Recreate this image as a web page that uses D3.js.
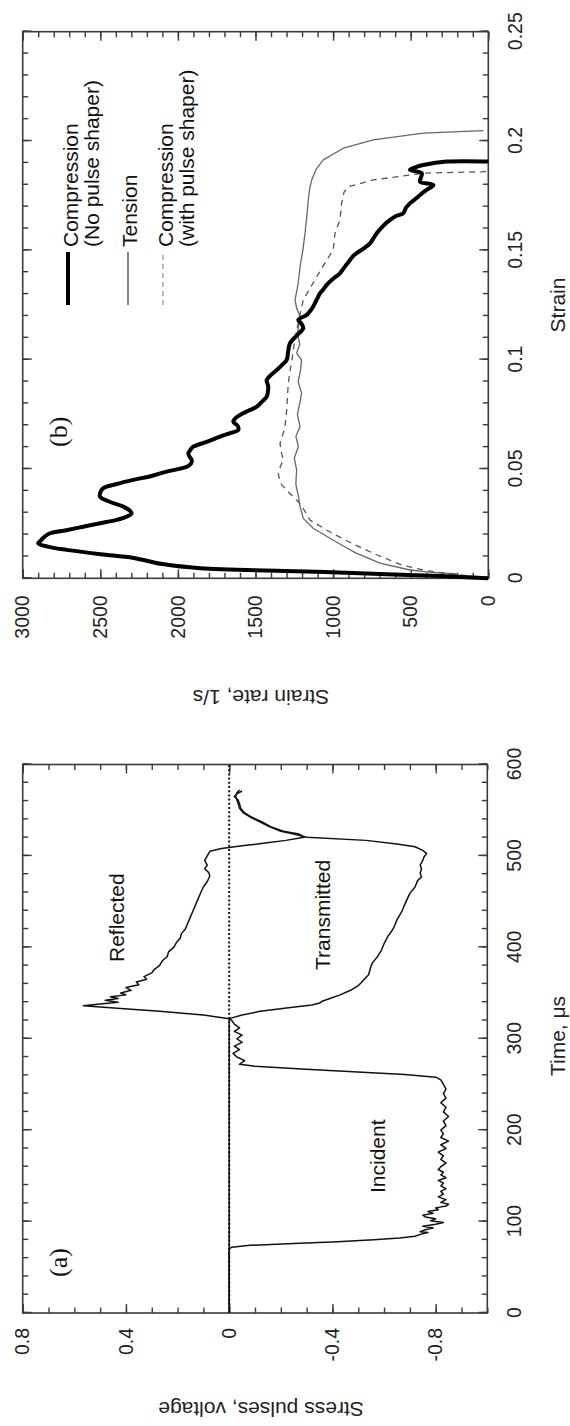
<!DOCTYPE html>
<html>
<head>
<meta charset="utf-8">
<script src="https://cdn.jsdelivr.net/npm/d3@7"></script>
<style>
  body { margin: 0; background: #fff; }
  svg text { font-family: "Liberation Sans", Arial, Helvetica, sans-serif; }
</style>
</head>
<body>
<svg id="fig" width="570" height="1426"></svg>
<script>
// ---------- Panel (a): stress pulses vs time ----------
const timeTicks = [0, 100, 200, 300, 400, 500, 600];
const pulseTicks = [0.8, 0.4, 0, -0.4, -0.8];

// incident-bar gauge: incident pulse followed by reflected pulse
const incidentBarTime = [0, 70, 72, 74, 76, 78, 80, 82, 84, 86, 88, 89, 91, 93, 95, 97, 99, 101, 103, 105, 107, 109, 111, 113, 115, 117, 119, 121, 124, 127, 130, 133, 136, 139, 142, 145, 148, 151, 154, 157, 160, 164, 168, 172, 176, 180, 184, 188, 192, 196, 200, 205, 210, 215, 220, 225, 230, 235, 240, 245, 250, 255, 258, 261, 264, 267, 270, 272, 276, 280, 284, 288, 292, 296, 300, 304, 308, 312, 316, 320, 322, 326, 330, 333, 336, 338, 340, 342, 344, 346, 348, 350, 353, 356, 359, 362, 365, 368, 372, 376, 380, 385, 390, 395, 400, 405, 410, 415, 420, 430, 440, 450, 460, 466, 472, 478, 482, 486, 490, 495, 500, 505, 508, 511, 514, 517, 520.5, 524, 527, 532, 537, 542, 547, 552, 557, 561, 565, 568, 571];
const incidentBarSignal = [0, 0, -0.01, -0.08, -0.25, -0.42, -0.56, -0.66, -0.72, -0.74, -0.77, -0.74, -0.76, -0.79, -0.75, -0.8, -0.83, -0.78, -0.8, -0.76, -0.75, -0.79, -0.77, -0.81, -0.8, -0.84, -0.85, -0.82, -0.84, -0.81, -0.83, -0.82, -0.84, -0.82, -0.83, -0.81, -0.84, -0.82, -0.83, -0.81, -0.82, -0.84, -0.82, -0.83, -0.81, -0.84, -0.82, -0.85, -0.82, -0.83, -0.82, -0.84, -0.83, -0.85, -0.83, -0.84, -0.82, -0.84, -0.83, -0.84, -0.83, -0.82, -0.8, -0.68, -0.48, -0.28, -0.1, -0.04, -0.06, -0.03, -0.015, -0.04, -0.02, -0.05, -0.03, -0.05, -0.02, -0.04, -0.02, -0.01, 0, 0.1, 0.27, 0.42, 0.565, 0.5, 0.43, 0.48, 0.43, 0.46, 0.4, 0.42, 0.38, 0.4, 0.35, 0.36, 0.32, 0.33, 0.3, 0.29, 0.27, 0.26, 0.24, 0.235, 0.215, 0.205, 0.19, 0.185, 0.17, 0.155, 0.14, 0.125, 0.11, 0.1, 0.085, 0.075, 0.08, 0.095, 0.085, 0.095, 0.085, 0.075, 0.03, -0.05, -0.14, -0.22, -0.29, -0.27, -0.21, -0.16, -0.13, -0.09, -0.06, -0.045, -0.04, -0.035, -0.02, -0.03, -0.05];

// transmitted-bar gauge
const transmittedTime = [0, 322, 326, 330, 334, 337, 339, 341, 344, 348, 353, 358, 364, 370, 375, 380, 383, 390, 397, 404, 412, 420, 430, 440, 450, 459, 466, 473, 477, 481, 486, 490, 495, 499, 502.5, 506, 510, 513, 517, 520.5, 524, 527, 532, 537, 542, 547, 552, 557, 561, 565, 569, 572];
const transmittedSignal = [0, 0, -0.05, -0.12, -0.23, -0.32, -0.35, -0.36, -0.39, -0.43, -0.47, -0.5, -0.52, -0.54, -0.545, -0.55, -0.555, -0.575, -0.59, -0.6, -0.615, -0.635, -0.65, -0.67, -0.685, -0.7, -0.72, -0.73, -0.745, -0.74, -0.745, -0.74, -0.75, -0.755, -0.765, -0.75, -0.72, -0.65, -0.53, -0.3, -0.25, -0.2, -0.155, -0.12, -0.085, -0.055, -0.04, -0.035, -0.03, -0.025, -0.03, -0.04];

// ---------- Panel (b): strain rate vs strain ----------
const strainTicks = [0, 0.05, 0.1, 0.15, 0.2, 0.25];
const rateTicks = [0, 500, 1000, 1500, 2000, 2500, 3000];

const noShaperStrain = [0, 0.001, 0.002, 0.003, 0.0046, 0.0065, 0.0093, 0.011, 0.013, 0.0145, 0.016, 0.0175, 0.019, 0.0206, 0.022, 0.0236, 0.0252, 0.0267, 0.0282, 0.0297, 0.031, 0.0328, 0.035, 0.0373, 0.0392, 0.0412, 0.043, 0.045, 0.0468, 0.0488, 0.051, 0.0525, 0.0541, 0.0557, 0.0572, 0.0587, 0.0602, 0.0625, 0.0648, 0.0665, 0.0678, 0.0697, 0.0716, 0.0732, 0.0747, 0.0765, 0.0785, 0.081, 0.083, 0.0853, 0.0876, 0.0895, 0.0907, 0.093, 0.0953, 0.0975, 0.0999, 0.1035, 0.1075, 0.111, 0.1144, 0.1165, 0.1182, 0.1205, 0.1225, 0.1243, 0.1275, 0.1304, 0.132, 0.1342, 0.137, 0.1395, 0.142, 0.1456, 0.1475, 0.1487, 0.151, 0.1532, 0.1555, 0.1578, 0.161, 0.1639, 0.1655, 0.167, 0.1695, 0.1715, 0.1735, 0.1753, 0.1775, 0.1799, 0.1814, 0.1835, 0.1853, 0.1868, 0.188, 0.189, 0.1906, 0.1906];
const noShaperRate = [0, 300, 700, 1100, 1857, 2100, 2285, 2500, 2717, 2840, 2900, 2880, 2860, 2824, 2720, 2610, 2500, 2394, 2330, 2298, 2310, 2352, 2440, 2502, 2500, 2481, 2400, 2288, 2170, 2072, 1943, 1915, 1911, 1925, 1933, 1920, 1901, 1810, 1729, 1660, 1611, 1615, 1643, 1630, 1600, 1550, 1492, 1455, 1428, 1420, 1418, 1425, 1428, 1400, 1363, 1330, 1299, 1290, 1278, 1235, 1192, 1205, 1224, 1170, 1145, 1128, 1105, 1084, 1065, 1041, 1000, 956, 930, 891, 870, 848, 800, 762, 740, 719, 680, 633, 600, 548, 530, 505, 470, 440, 400, 354, 440, 433, 429, 505, 470, 419, 268, 0];

const tensionStrain = [0, 0.001, 0.0015, 0.002, 0.0028, 0.0038, 0.0069, 0.0114, 0.015, 0.0183, 0.0229, 0.0274, 0.0328, 0.038, 0.043, 0.0495, 0.055, 0.0602, 0.065, 0.0693, 0.075, 0.08, 0.0846, 0.09, 0.095, 0.0999, 0.103, 0.107, 0.112, 0.1197, 0.1235, 0.1273, 0.135, 0.1425, 0.15, 0.1578, 0.165, 0.173, 0.1785, 0.1822, 0.187, 0.1914, 0.1967, 0.2005, 0.2036, 0.2048];
const tensionRate = [0, 120, 260, 200, 380, 505, 698, 848, 940, 1020, 1128, 1192, 1213, 1225, 1240, 1235, 1250, 1224, 1240, 1213, 1230, 1215, 1203, 1225, 1210, 1203, 1235, 1215, 1230, 1213, 1235, 1245, 1225, 1213, 1195, 1181, 1170, 1160, 1150, 1138, 1110, 1063, 934, 741, 419, 32];

const shaperStrain = [0, 0.001, 0.002, 0.0035, 0.0061, 0.0114, 0.0167, 0.022, 0.0267, 0.0305, 0.0343, 0.0375, 0.0404, 0.0427, 0.045, 0.048, 0.051, 0.0541, 0.058, 0.0618, 0.0655, 0.0693, 0.073, 0.077, 0.082, 0.088, 0.094, 0.1, 0.105, 0.11, 0.115, 0.12, 0.1273, 0.1365, 0.1456, 0.1502, 0.1578, 0.1639, 0.1715, 0.1765, 0.1791, 0.1822, 0.1853, 0.186];
const shaperRate = [0, 100, 250, 400, 560, 740, 900, 1040, 1150, 1180, 1215, 1260, 1300, 1331, 1345, 1353, 1340, 1321, 1335, 1342, 1325, 1310, 1305, 1299, 1295, 1290, 1280, 1265, 1255, 1245, 1230, 1215, 1192, 1117, 1041, 999, 988, 956, 945, 930, 902, 741, 419, 0];

const legendLabels = [
  ["Compression", "(No pulse shaper)"],
  ["Tension"],
  ["Compression", "(with pulse shaper)"]
];

// ---------- drawing ----------
const svg = d3.select("#fig");
svg.append("rect").attr("width", 570).attr("height", 1426).attr("fill", "#fff");

// The figure is laid out landscape (1426 x 570) and turned a quarter turn.
const fig = svg.append("g").attr("transform", "translate(0,1426) rotate(-90)");

const frameColor = "#3a3a3a";
const tickFont = 19.5;
const titleFont = 21;

function drawFrame(g, x, y, xMajor, yMajor, xFmt, yFmt, yPad) {
  const [x0, x1] = x.range();
  const [y0, y1] = y.range();
  const xMinor = x.ticks(xMajor === timeTicks ? 30 : 25);
  const yMinor = y.ticks(yMajor === pulseTicks ? 18 : 30);

  const style = sel => {
    sel.attr("font-size", tickFont)
       .attr("font-family", '"Liberation Sans", Arial, sans-serif')
       .attr("color", frameColor);
    sel.select(".domain").remove();
    sel.selectAll(".tick line").attr("stroke-width", 1.4);
    sel.selectAll(".tick text").attr("fill", "#222");
  };

  // bottom
  g.append("g").attr("transform", `translate(0,${y0})`)
    .call(d3.axisBottom(x).tickValues(xMinor).tickSize(-5.5).tickFormat("")).call(style);
  g.append("g").attr("transform", `translate(0,${y0})`)
    .call(d3.axisBottom(x).tickValues(xMajor).tickSize(-9).tickPadding(20).tickFormat(xFmt)).call(style);
  // top
  g.append("g").attr("transform", `translate(0,${y1})`)
    .call(d3.axisTop(x).tickValues(xMinor).tickSize(-5.5).tickFormat("")).call(style);
  g.append("g").attr("transform", `translate(0,${y1})`)
    .call(d3.axisTop(x).tickValues(xMajor).tickSize(-9).tickFormat("")).call(style);
  // left
  g.append("g").attr("transform", `translate(${x0},0)`)
    .call(d3.axisLeft(y).tickValues(yMinor).tickSize(-5.5).tickFormat("")).call(style);
  g.append("g").attr("transform", `translate(${x0},0)`)
    .call(d3.axisLeft(y).tickValues(yMajor).tickSize(-9).tickPadding(yPad).tickFormat(yFmt)).call(style);
  // right
  g.append("g").attr("transform", `translate(${x1},0)`)
    .call(d3.axisRight(y).tickValues(yMinor).tickSize(-5.5).tickFormat("")).call(style);
  g.append("g").attr("transform", `translate(${x1},0)`)
    .call(d3.axisRight(y).tickValues(yMajor).tickSize(-9).tickFormat("")).call(style);

  g.append("rect")
    .attr("x", x0).attr("y", y1)
    .attr("width", x1 - x0).attr("height", y0 - y1)
    .attr("fill", "none").attr("stroke", frameColor).attr("stroke-width", 1.6);
}

const zip = (a, b) => a.map((v, i) => [v, b[i]]);

// ----- panel (a)
const xa = d3.scaleLinear().domain([0, 600]).range([113, 661.5]);
const ya = d3.scaleLinear().domain([-1.0, 0.8]).range([487.3, 22.7]);
const pa = fig.append("g");

drawFrame(pa, xa, ya, timeTicks, pulseTicks, d3.format("d"), d => d3.format("")(d).replace("−", "-"), 15);

const lineA = d3.line().x(d => xa(d[0])).y(d => ya(d[1]));

pa.append("line")
  .attr("x1", xa(0)).attr("x2", xa(600))
  .attr("y1", ya(0)).attr("y2", ya(0))
  .attr("stroke", "#111").attr("stroke-width", 2)
  .attr("stroke-dasharray", "2,2.2");

pa.append("path").datum(zip(incidentBarTime, incidentBarSignal))
  .attr("d", lineA).attr("fill", "none")
  .attr("stroke", "#111").attr("stroke-width", 1.5).attr("stroke-linejoin", "round");
pa.append("path").datum(zip(transmittedTime, transmittedSignal))
  .attr("d", lineA).attr("fill", "none")
  .attr("stroke", "#111").attr("stroke-width", 1.5).attr("stroke-linejoin", "round");

pa.append("text").attr("x", 464).attr("y", 124).attr("font-size", titleFont).attr("fill", "#111").text("Reflected");
pa.append("text").attr("x", 456).attr("y", 330).attr("font-size", titleFont).attr("fill", "#111").text("Transmitted");
pa.append("text").attr("x", 233).attr("y", 385).attr("font-size", titleFont).attr("fill", "#111").text("Incident");
pa.append("text").attr("x", 149).attr("y", 67).attr("font-size", 26)
  .style("font-family", '"Liberation Serif", "Times New Roman", serif').attr("fill", "#111").text("(a)");

pa.append("text").attr("x", 390).attr("y", 565).attr("text-anchor", "middle")
  .attr("font-size", titleFont).attr("fill", "#222").text("Time, μs");
pa.append("text").attr("transform", "translate(24,261) rotate(-90)").attr("text-anchor", "middle")
  .attr("font-size", titleFont).attr("fill", "#222").text("Stress pulses, voltage");

// ----- panel (b)
const xb = d3.scaleLinear().domain([0, 0.25]).range([847.7, 1394.3]);
const yb = d3.scaleLinear().domain([0, 3000]).range([488.3, 22.7]);
const pb = fig.append("g");

drawFrame(pb, xb, yb, strainTicks, rateTicks, d => d3.format("")(d), d3.format("d"), 17);

const lineB = d3.line().x(d => xb(d[0])).y(d => yb(d[1]));

pb.append("path").datum(zip(tensionStrain, tensionRate))
  .attr("d", lineB).attr("fill", "none")
  .attr("stroke", "#666").attr("stroke-width", 1.3).attr("stroke-linejoin", "round");
pb.append("path").datum(zip(shaperStrain, shaperRate))
  .attr("d", lineB).attr("fill", "none")
  .attr("stroke", "#555").attr("stroke-width", 1.3)
  .attr("stroke-dasharray", "6,5");
pb.append("path").datum(zip(noShaperStrain, noShaperRate))
  .attr("d", d3.line().x(d => xb(d[0])).y(d => yb(d[1])).curve(d3.curveCatmullRom))
  .attr("fill", "none")
  .attr("stroke", "#000").attr("stroke-width", 4).attr("stroke-linejoin", "round");

pb.append("text").attr("x", 979).attr("y", 67).attr("font-size", 26)
  .style("font-family", '"Liberation Serif", "Times New Roman", serif').attr("fill", "#111").text("(b)");

// legend
const legendRows = [
  { y: 68, base: [78, 99], stroke: "#000", width: 4, dash: null },
  { y: 128, base: [137], stroke: "#444", width: 1.3, dash: null },
  { y: 163, base: [173, 194], stroke: "#999", width: 1.3, dash: "5,4" }
];
legendRows.forEach((row, i) => {
  pb.append("line")
    .attr("x1", 1121).attr("x2", 1174).attr("y1", row.y).attr("y2", row.y)
    .attr("stroke", row.stroke).attr("stroke-width", row.width)
    .attr("stroke-dasharray", row.dash);
  legendLabels[i].forEach((t, j) => {
    pb.append("text").attr("x", 1179).attr("y", row.base[j])
      .attr("font-size", titleFont).attr("fill", "#111").text(t);
  });
});

pb.append("text").attr("x", 1121).attr("y", 565).attr("text-anchor", "middle")
  .attr("font-size", titleFont).attr("fill", "#222").text("Strain");
pb.append("text").attr("transform", "translate(736,261) rotate(-90)").attr("text-anchor", "middle")
  .attr("font-size", titleFont).attr("fill", "#222").text("Strain rate, 1/s");
</script>
</body>
</html>
